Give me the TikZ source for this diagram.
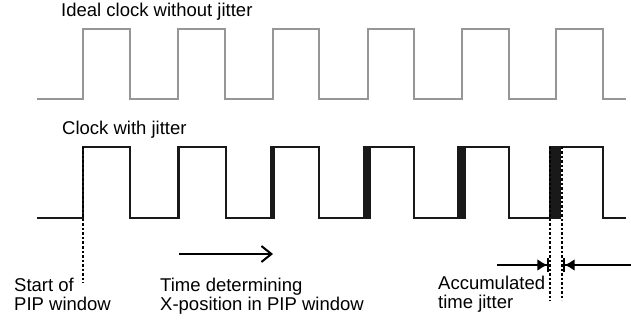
\documentclass[tikz,border=0pt]{standalone}
\usepackage{fontspec}
\setmainfont{Liberation Sans}
\usetikzlibrary{arrows.meta}
\definecolor{idealgray}{RGB}{150,150,150}
\definecolor{sigblack}{RGB}{25,25,25}
\tikzset{
  lbl/.style={inner sep=0pt, anchor=base west, font=\fontsize{18.5}{19.5}\selectfont},
  idealwave/.style={draw=idealgray, line width=2.2pt, line join=miter},
  jitwave/.style={draw=sigblack, line width=2.2pt, line join=miter},
  band/.style={fill=sigblack},
  dotline/.style={draw=black, line width=1.7pt, dash pattern=on 2.5pt off 2pt},
  timearrow/.style={draw=black, line width=2pt, -{Straight Barb[length=10pt,width=16pt,line width=2pt]}},
  jitarrow/.style={draw=black, line width=2pt, -{Latex[length=10pt,width=12pt]Bar[width=14pt,line width=1.6pt]}}
}
\begin{document}
\begin{tikzpicture}[x=1pt,y=-1pt]
\useasboundingbox (0,0) rectangle (631,320);
% labels
\node[lbl] (ideallbl) at (61,17) {Ideal clock without jitter};
\node[lbl] (jitlbl) at (62,135) {Clock with jitter};
\node[lbl] (startlbl) at (14,291) {\begin{tabular}[t]{@{}l@{}}Start of\\PIP window\end{tabular}};
\node[lbl] (timelbl) at (160,291) {\begin{tabular}[t]{@{}l@{}}Time determining\\X-position in PIP window\end{tabular}};
\node[lbl] (acclbl) at (438,289) {\begin{tabular}[t]{@{}l@{}}Accumulated\\time jitter\end{tabular}};
% ideal clock
\draw[idealwave] (37,99) -| (83,29) -| (130,99) -| (178,29) -| (225,99) -| (273,29)
  -| (319,99) -| (368,29) -| (414,99) -| (462,29) -| (509,99) -| (556,29) -| (603,99) -- (626,99);
% jitter clock
\draw[jitwave] (37,218) -| (83,147) -| (130,218) -| (178.5,147) -| (226,218) -| (272.5,147)
  -| (319,218) -| (367,147) -| (414,218) -| (461.5,147) -| (509,218) -| (555,147) -| (603,218) -- (626,218);
\fill[band] (177,146) rectangle (180,219);
\fill[band] (270,146) rectangle (275,219);
\fill[band] (363,146) rectangle (371,219);
\fill[band] (457,146) rectangle (466,219);
\fill[band] (549,146) rectangle (561,219);
% dotted markers
\coordinate (s1) at (83,147);
\coordinate (s2) at (83,283);
\coordinate (j1t) at (550,147);
\coordinate (j1b) at (550,301);
\coordinate (j2t) at (562,147);
\coordinate (j2b) at (562,300);
\draw[dotline] (s1) -- (s2);
\draw[dotline] (j1t) -- (j1b);
\draw[dotline] (j2t) -- (j2b);
% arrows
\coordinate (ta) at (179,254);
\coordinate (tb) at (273,254);
\draw[timearrow] (ta) -- (tb);
\coordinate (la) at (497,265);
\coordinate (lb) at (549,265);
\coordinate (ra) at (631,265);
\coordinate (rb) at (563,265);
\draw[jitarrow] (la) -- (lb);
\draw[jitarrow] (ra) -- (rb);
\end{tikzpicture}
\end{document}
